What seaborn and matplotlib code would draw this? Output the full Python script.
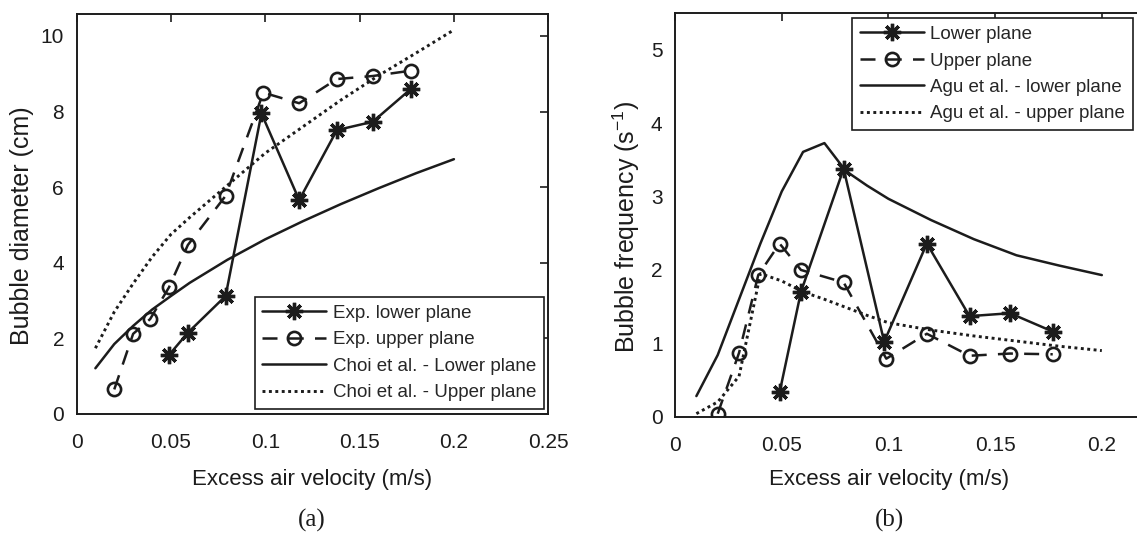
import numpy as np
import pandas as pd
import seaborn as sns
import matplotlib.pyplot as plt
from matplotlib.lines import Line2D

# ---- data ----
# (a) bubble diameter
lower_x = [0.049, 0.059, 0.079, 0.098, 0.118, 0.138, 0.157, 0.177]
lower_d = [1.56, 2.15, 3.12, 7.95, 5.66, 7.51, 7.73, 8.59]
upper_x = [0.020, 0.030, 0.039, 0.049, 0.059, 0.079, 0.099, 0.118, 0.138, 0.157, 0.177]
upper_d = [0.65, 2.12, 2.51, 3.35, 4.47, 5.77, 8.50, 8.22, 8.86, 8.94, 9.08]
choi_x = [0.01, 0.02, 0.03, 0.04, 0.05, 0.06, 0.08, 0.10, 0.12, 0.14, 0.16, 0.18, 0.20]
choi_low = [1.21, 1.85, 2.33, 2.76, 3.12, 3.47, 4.08, 4.62, 5.10, 5.55, 5.97, 6.37, 6.74]
choi_up = [1.74, 2.70, 3.45, 4.15, 4.75, 5.20, 6.05, 6.90, 7.60, 8.30, 8.95, 9.55, 10.16]

# (b) bubble frequency
lower_f = [0.33, 1.70, 3.38, 1.02, 2.36, 1.37, 1.41, 1.16]
upper_f = [0.04, 0.87, 1.93, 2.36, 2.00, 1.83, 0.79, 1.13, 0.83, 0.86, 0.85]
agu_x = [0.01, 0.02, 0.03, 0.04, 0.05, 0.06, 0.07, 0.08, 0.09, 0.10, 0.12, 0.14, 0.16, 0.18, 0.20]
agu_low = [0.28, 0.84, 1.60, 2.36, 3.07, 3.61, 3.73, 3.35, 3.15, 2.97, 2.68, 2.42, 2.20, 2.06, 1.93]
agu_up = [0.04, 0.20, 0.55, 1.95, 1.85, 1.70, 1.60, 1.49, 1.38, 1.28, 1.18, 1.10, 1.03, 0.96, 0.90]

xticks = [0, 0.05, 0.1, 0.15, 0.2, 0.25]
xtick_labels = ['0', '0.05', '0.1', '0.15', '0.2', '0.25']

sns.set_style('white')
plt.rcParams['font.family'] = ['Liberation Sans', 'DejaVu Sans']
plt.rcParams['mathtext.default'] = 'regular'

K = '#1c1c1c'
LW = 1.8
star = dict(marker=(8, 2, 0), markersize=12.5, markeredgewidth=2.4,
            markerfacecolor=K, markeredgecolor=K)
circ = dict(marker='o', markersize=9.5, markeredgewidth=1.9,
            markerfacecolor='none', markeredgecolor=K)
dash = (0, (6, 4.5))
dot = (0, (1, 1.2))

fig = plt.figure(figsize=(11.37, 5.56), dpi=100)
ax1 = fig.add_axes([0.0673, 0.2554, 0.4149, 0.7194])
ax2 = fig.add_axes([0.5937, 0.2507, 0.4692, 0.7254])


def style_axes(ax, ylim, yticks, labels):
    ax.set_xlim(0, 0.25)
    ax.set_ylim(*ylim)
    ax.set_xticks(xticks)
    ax.set_xticklabels(labels)
    ax.set_yticks(yticks)
    ax.tick_params(direction='in', length=6, width=1.2, top=True, right=True,
                   labelsize=15, colors=K)
    ax.tick_params(axis='x', pad=14)
    ax.tick_params(axis='y', pad=9)
    for s in ax.spines.values():
        s.set_color(K)
        s.set_linewidth(1.4)
    ax.grid(False)


def make_legend(labels, anchor, loc):
    h = [Line2D([], [], color=K, lw=LW, **star),
         Line2D([], [], color=K, lw=LW, linestyle=dash, **circ),
         Line2D([], [], color=K, lw=LW),
         Line2D([], [], color=K, lw=2.1, linestyle=dot)]
    leg = fig.legend(h, labels, loc=loc, bbox_to_anchor=anchor,
                     fontsize=13.5, handlelength=3.4, handletextpad=0.35,
                     borderpad=0.42, labelspacing=0.5, fancybox=False,
                     framealpha=1, edgecolor=K, borderaxespad=0)
    leg.get_frame().set_linewidth(1.2)
    return leg


# ---- panel (a) ----
sns.lineplot(x=choi_x, y=choi_low, ax=ax1, color=K, lw=LW, sort=False)
sns.lineplot(x=choi_x, y=choi_up, ax=ax1, color=K, lw=2.1, linestyle=dot, sort=False)
sns.lineplot(x=upper_x, y=upper_d, ax=ax1, color=K, lw=LW, linestyle=dash, sort=False, **circ)
sns.lineplot(x=lower_x, y=lower_d, ax=ax1, color=K, lw=LW, sort=False, **star)
style_axes(ax1, (0, 10.58), [0, 2, 4, 6, 8, 10], xtick_labels)
ax1.set_xlabel('Excess air velocity (m/s)', fontsize=16, color=K)
ax1.set_ylabel('Bubble diameter (cm)', fontsize=18, color=K)
ax1.xaxis.set_label_coords((312 - 76.5) / 472, -(469 - 414) / 400)
ax1.yaxis.set_label_coords((34 - 76.5) / 472, 0.47)

make_legend(['Exp. lower plane', 'Exp. upper plane',
             'Choi et al. - Lower plane', 'Choi et al. - Upper plane'],
            (544 / 1137, 1 - 409 / 556), 'lower right')

# ---- panel (b) ----
sns.lineplot(x=agu_x, y=agu_low, ax=ax2, color=K, lw=LW, sort=False)
sns.lineplot(x=agu_x, y=agu_up, ax=ax2, color=K, lw=2.1, linestyle=dot, sort=False)
sns.lineplot(x=upper_x, y=upper_f, ax=ax2, color=K, lw=LW, linestyle=dash, sort=False, **circ)
sns.lineplot(x=lower_x, y=lower_f, ax=ax2, color=K, lw=LW, sort=False, **star)
style_axes(ax2, (0, 5.5), [0, 1, 2, 3, 4, 5], xtick_labels[:-1] + [''])
ax2.set_xlabel('Excess air velocity (m/s)', fontsize=16, color=K)
ax2.set_ylabel('Bubble frequency (s$^{-1}$)', fontsize=18, color=K)
ax2.xaxis.set_label_coords((889 - 675) / 533.5, -(469 - 416.6) / 403.3)
ax2.yaxis.set_label_coords((642 - 675) / 533.5, 0.47)

make_legend(['Lower plane', 'Upper plane',
             'Agu et al. - lower plane', 'Agu et al. - upper plane'],
            (852 / 1137, 1 - 18 / 556), 'upper left')

fig.text(312 / 1137, 1 - 520 / 556, '(a)', family='Liberation Serif',
         fontsize=18, ha='center', va='center', color=K)
fig.text(889 / 1137, 1 - 520 / 556, '(b)', family='Liberation Serif',
         fontsize=18, ha='center', va='center', color=K)

fig.savefig('out.png', dpi=100)
